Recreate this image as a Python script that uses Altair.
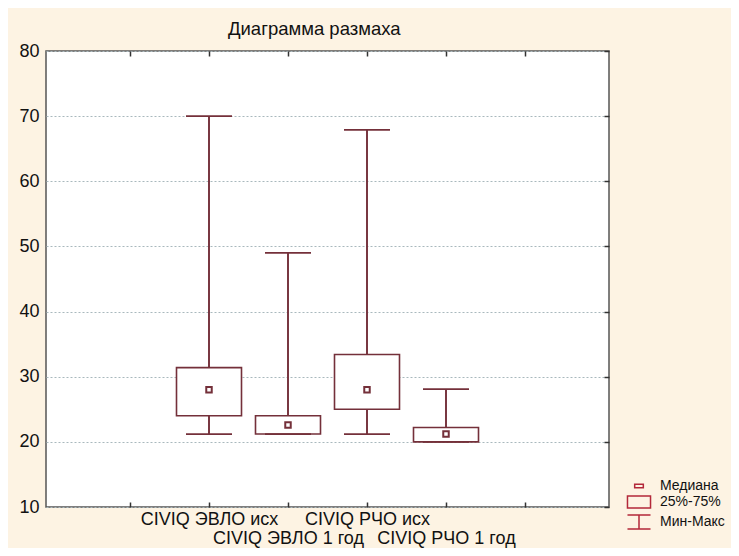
import altair as alt
import pandas as pd

# ---- data ----
categories = ["CIVIQ ЭВЛО исх", "CIVIQ ЭВЛО 1 год", "CIVIQ РЧО исх", "CIVIQ РЧО 1 год"]
min_vals = [21.2, 21.2, 21.2, 20.0]
q1_vals = [24.0, 21.2, 25.0, 20.0]
median_vals = [28.0, 22.6, 28.0, 21.2]
q3_vals = [31.4, 24.0, 33.4, 22.2]
max_vals = [70.0, 49.0, 67.9, 28.1]

y_ticks = [10, 20, 30, 40, 50, 60, 70, 80]
x_ticks = [1, 2, 3, 4, 5, 6]
legend_items = ["Медиана", "25%-75%", "Мин-Макс"]
title_text = "Диаграмма размаха"

# ---- styles ----
BOX = "#74303a"
LEG = "#b3283a"
FONT = "Liberation Sans"
BG = "#fdf3e3"

df = pd.DataFrame({
    "cat": categories,
    "slot": [i + 2 for i in range(len(categories))],
    "mn": min_vals, "q1": q1_vals, "med": median_vals, "q3": q3_vals, "mx": max_vals,
})

# staggered category labels (second and fourth on a second line)
parts = []
for i, c in enumerate(categories):
    lab = f"'{c}'" if i % 2 == 0 else f"['', '{c}']"
    parts.append(f"datum.value == {i + 2} ? {lab}")
label_expr = " : ".join(parts) + " : ''"

xscale = alt.Scale(domain=[0, 7], nice=False, zero=False)
yscale = alt.Scale(domain=[10, 80], nice=False, zero=False)

x_bottom = alt.Axis(orient="bottom", values=x_ticks, labelExpr=label_expr, title=None,
                    domain=False, grid=False, ticks=True, tickSize=5, offset=-5,
                    tickColor="#333", tickWidth=1.5, labelPadding=3,
                    labelFontSize=18, labelFont=FONT, labelColor="#111",
                    labelOverlap=False, labelFlush=False, labelBound=False,
                    labelLineHeight=19, labelBaseline="top")
y_left = alt.Axis(orient="left", values=y_ticks, title=None, domain=False,
                  grid=True, gridDash=[2, 2], gridColor="#a9b8bd", gridWidth=1,
                  ticks=False, labelPadding=7, labelFontSize=18, labelFont=FONT,
                  labelColor="#111")
x_top = alt.Axis(orient="top", values=x_ticks, title=None, labels=False, domain=False,
                 grid=False, tickSize=5, offset=-5, tickColor="#333", tickWidth=1.5)
y_right = alt.Axis(orient="right", values=y_ticks, title=None, labels=False, domain=False,
                   grid=False, tickSize=5, offset=-5, tickColor="#333", tickWidth=1.5)

base = alt.Chart(df)

whisker = base.mark_rule(color=BOX, strokeWidth=1.6).encode(
    x=alt.X("slot:Q", scale=xscale, axis=x_bottom),
    y=alt.Y("mn:Q", scale=yscale, axis=y_left),
    y2="mx:Q",
)

frame_ticks = base.mark_rule(color=BOX, strokeWidth=1.6).encode(
    x=alt.X("slot:Q", scale=xscale, axis=x_top),
    y=alt.Y("mn:Q", scale=yscale, axis=y_right),
    y2="mx:Q",
)

box = base.mark_bar(size=65, fill="white", stroke=BOX, strokeWidth=1.6, opacity=1).encode(
    x=alt.X("slot:Q", scale=xscale, axis=None),
    y=alt.Y("q1:Q", scale=yscale, axis=None),
    y2="q3:Q",
)

cap_max = base.mark_tick(orient="horizontal", size=46, thickness=1.7, color=BOX, opacity=1).encode(
    x=alt.X("slot:Q", scale=xscale, axis=None),
    y=alt.Y("mx:Q", scale=yscale, axis=None),
)
cap_min = base.mark_tick(orient="horizontal", size=46, thickness=1.7, color=BOX, opacity=1).encode(
    x=alt.X("slot:Q", scale=xscale, axis=None),
    y=alt.Y("mn:Q", scale=yscale, axis=None),
)

median = base.mark_square(size=30, fill="white", stroke=BOX, strokeWidth=2, opacity=1).encode(
    x=alt.X("slot:Q", scale=xscale, axis=None),
    y=alt.Y("med:Q", scale=yscale, axis=None),
)

# legend driven by a shape scale with custom symbol paths (no visible marks: values are null)
legend_df = pd.DataFrame({"item": legend_items, "v": [None] * len(legend_items)})
paths = [
    "M-0.54,-0.22H0.54V0.22H-0.54Z",
    "M-1.44,-0.75H1.44V0.75H-1.44Z",
    "M-1.44,-0.88H1.44M0,-0.88V0.88M-1.44,0.88H1.44",
]
legend_layer = alt.Chart(legend_df).mark_point(filled=False, color=LEG, strokeWidth=1.5).encode(
    y=alt.Y("v:Q", scale=yscale, axis=None),
    shape=alt.Shape("item:N", scale=alt.Scale(domain=legend_items, range=paths),
                    legend=alt.Legend(orient="none", legendX=584, legendY=426, title=None,
                                      symbolSize=256, symbolStrokeWidth=1.5,
                                      symbolStrokeColor=LEG, symbolFillColor="transparent",
                                      symbolOpacity=1, labelFontSize=14, labelFont=FONT,
                                      labelColor="#111", labelOffset=12, rowPadding=0,
                                      padding=0, offset=0)),
)

chart = alt.layer(whisker, frame_ticks, box, cap_max, cap_min, median, legend_layer).resolve_axis(
    x="independent", y="independent"
).properties(
    width=563, height=456,
    padding={"left": 38, "top": 43, "right": 122, "bottom": 41},
    autosize=alt.AutoSizeParams(type="none"),
    background=BG,
    title=alt.TitleParams(title_text, anchor="start", frame="group", dx=182, dy=24, offset=13,
                          fontSize=18.5, font=FONT, fontWeight="normal", fontStyle="normal",
                          color="#111", baseline="alphabetic"),
).configure_view(stroke="#555", strokeWidth=1.5, fill="white")

chart.save("out.html", embed_options={"renderer": "svg", "actions": False})
